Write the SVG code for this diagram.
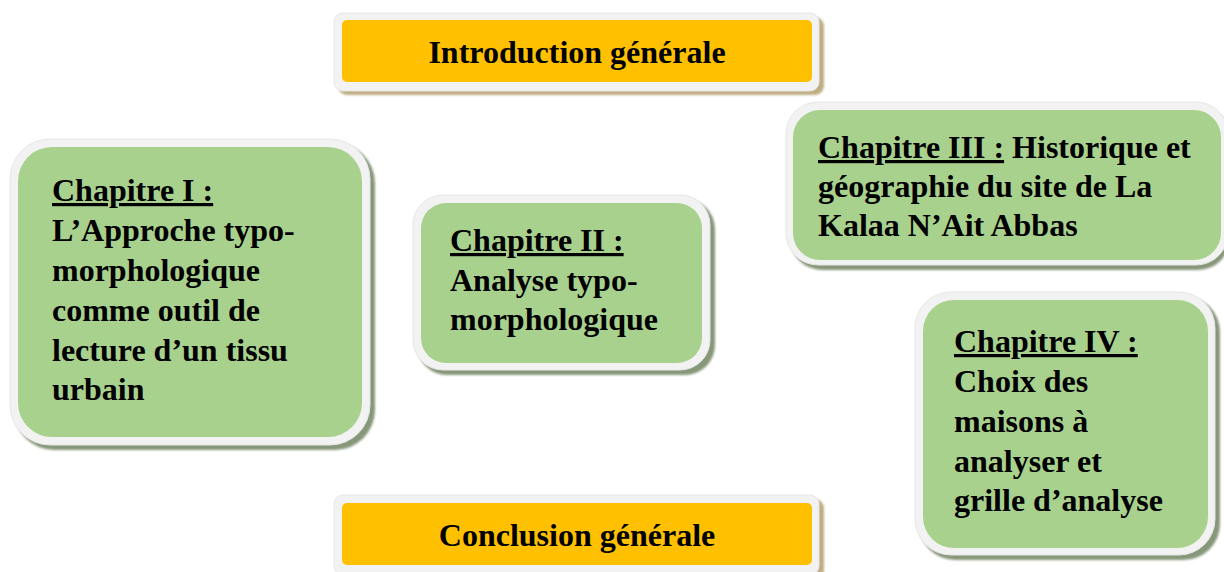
<svg xmlns="http://www.w3.org/2000/svg" width="1224" height="572" viewBox="0 0 1224 572">
<defs>
<filter id="blur" x="-10%" y="-10%" width="120%" height="120%"><feGaussianBlur stdDeviation="1"/></filter>
<style>
.frame{fill:#F2F2F2;stroke:#E6E6E6;stroke-width:1}
.sh-o{fill:#BFAE82;filter:url(#blur)}
.sh-g{fill:#87977A;filter:url(#blur)}
.orange{fill:#FFC000}
.green{fill:#A9D18E}
text{font-family:"Liberation Serif","Times New Roman",serif;font-weight:bold;font-size:32px;fill:#000}
.u{text-decoration:underline}
</style>
</defs>
<rect width="1224" height="572" fill="#FFFFFF"/>
<g id="connectors"></g>

<g id="intro">
<rect class="sh-o" x="338" y="17" width="486" height="78" rx="9"/>
<rect class="frame" x="334" y="13" width="485" height="78" rx="9"/>
<rect class="orange" x="342" y="20" width="470" height="62" rx="5"/>
<text x="577" y="63" text-anchor="middle">Introduction générale</text>
</g>

<g id="chap1">
<rect class="sh-g" x="14" y="143" width="361" height="307" rx="40"/>
<rect class="frame" x="10" y="139" width="360" height="306" rx="40"/>
<rect class="green" x="18" y="147" width="344" height="290" rx="34"/>
<text x="52" y="201"><tspan class="u">Chapitre I :</tspan></text>
<text x="52" y="241">L’Approche typo-</text>
<text x="52" y="281">morphologique</text>
<text x="52" y="321">comme outil de</text>
<text x="52" y="361">lecture d’un tissu</text>
<text x="52" y="400">urbain</text>
</g>

<g id="chap2">
<rect class="sh-g" x="417" y="199" width="298" height="176" rx="30"/>
<rect class="frame" x="413" y="195" width="297" height="175" rx="30"/>
<rect class="green" x="421" y="203" width="281" height="160" rx="25"/>
<text x="450" y="251"><tspan class="u">Chapitre II :</tspan></text>
<text x="450" y="291">Analyse typo-</text>
<text x="450" y="330">morphologique</text>
</g>

<g id="chap3">
<rect class="sh-g" x="790" y="106" width="440" height="164" rx="32"/>
<rect class="frame" x="786" y="102" width="442" height="163" rx="32"/>
<rect class="green" x="793" y="110" width="428" height="150" rx="27"/>
<text x="818" y="158"><tspan class="u">Chapitre III :</tspan> Historique et</text>
<text x="818" y="197">géographie du site de La</text>
<text x="818" y="236">Kalaa N’Ait Abbas</text>
</g>

<g id="chap4">
<rect class="sh-g" x="919" y="296" width="301" height="264" rx="36"/>
<rect class="frame" x="915" y="292" width="300" height="263" rx="36"/>
<rect class="green" x="923" y="300" width="285" height="248" rx="31"/>
<text x="954" y="352"><tspan class="u">Chapitre IV :</tspan></text>
<text x="954" y="392">Choix des</text>
<text x="954" y="432">maisons à</text>
<text x="954" y="472">analyser et</text>
<text x="954" y="511">grille d’analyse</text>
</g>

<g id="conclusion">
<rect class="sh-o" x="338" y="499" width="486" height="80" rx="9"/>
<rect class="frame" x="334" y="495" width="485" height="80" rx="9"/>
<rect class="orange" x="342" y="503" width="470" height="62" rx="5"/>
<text x="577" y="546" text-anchor="middle">Conclusion générale</text>
</g>
</svg>
